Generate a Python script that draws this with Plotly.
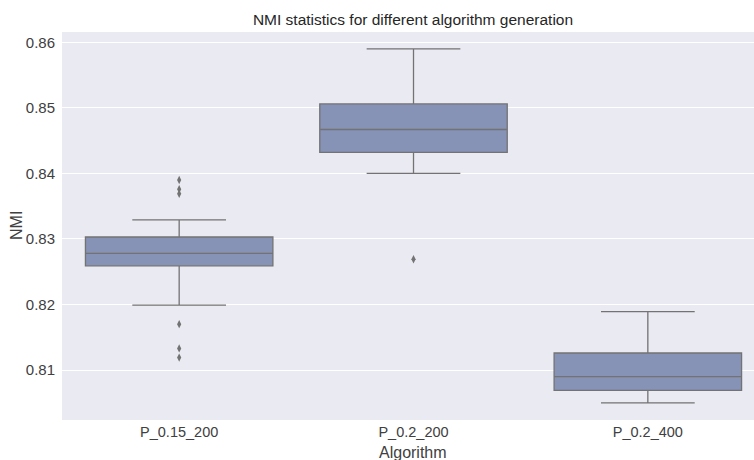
import plotly.graph_objects as go

categories = ["P_0.15_200", "P_0.2_200", "P_0.2_400"]
q1 = [0.8259, 0.8432, 0.8069]
median = [0.8278, 0.8467, 0.8090]
q3 = [0.8303, 0.8506, 0.8126]
lower_whisker = [0.8199, 0.8400, 0.8050]
upper_whisker = [0.8329, 0.8590, 0.8189]
outlier_cat = ["P_0.15_200"] * 6 + ["P_0.2_200"]
outlier_val = [0.8390, 0.8376, 0.8369, 0.8170, 0.8133, 0.8119, 0.8269]

LINE = "#737373"
FILL = "#8692b6"
FONT = "Liberation Sans, Arial, sans-serif"

fig = go.Figure()
fig.add_trace(go.Box(
    x=categories, q1=q1, median=median, q3=q3,
    lowerfence=lower_whisker, upperfence=upper_whisker,
    fillcolor=FILL, line=dict(color=LINE, width=1.3),
    width=0.8, whiskerwidth=0.5, boxpoints=False, showlegend=False,
    hoverinfo="skip",
))
fig.add_trace(go.Scatter(
    x=outlier_cat, y=outlier_val, mode="markers",
    marker=dict(symbol="diamond-tall", size=6, color=LINE, line=dict(width=0)),
    showlegend=False, hoverinfo="skip",
))

fig.update_layout(
    width=754, height=460,
    margin=dict(l=62, r=0, t=32, b=40),
    paper_bgcolor="white", plot_bgcolor="#EAEAF2",
    font=dict(family=FONT, color="#262626"),
    title=dict(text="NMI statistics for different algorithm generation",
               x=413 / 754, xanchor="center", xref="container",
               y=1 - 20 / 460, yanchor="middle", yref="container",
               font=dict(size=15.5, color="#262626", family=FONT)),
    xaxis=dict(range=[-0.5, 2.453], showgrid=False, zeroline=False,
               tickfont=dict(size=14.5, color="#404040"), ticks="",
               ticklabelstandoff=1),
    yaxis=dict(range=[0.80238, 0.86157], tickvals=[0.81, 0.82, 0.83, 0.84, 0.85, 0.86],
               ticktext=["0.81", "0.82", "0.83", "0.84", "0.85", "0.86"],
               showgrid=True, gridcolor="white", gridwidth=1.2, zeroline=False,
               tickfont=dict(size=15, color="#404040"), ticks="",
               ticklabelstandoff=6),
    annotations=[
        dict(text="NMI", xref="paper", yref="paper", x=-62 / 692 + 16 / 692, y=0.5,
             xanchor="center", yanchor="middle", textangle=-90, showarrow=False,
             font=dict(size=16, color="#404040", family=FONT)),
        dict(text="Algorithm", xref="paper", yref="paper", x=(413 - 62) / 692,
             y=-33 / 388, xanchor="center", yanchor="middle", showarrow=False,
             font=dict(size=16, color="#404040", family=FONT)),
    ],
)

fig.write_html("out.html")
